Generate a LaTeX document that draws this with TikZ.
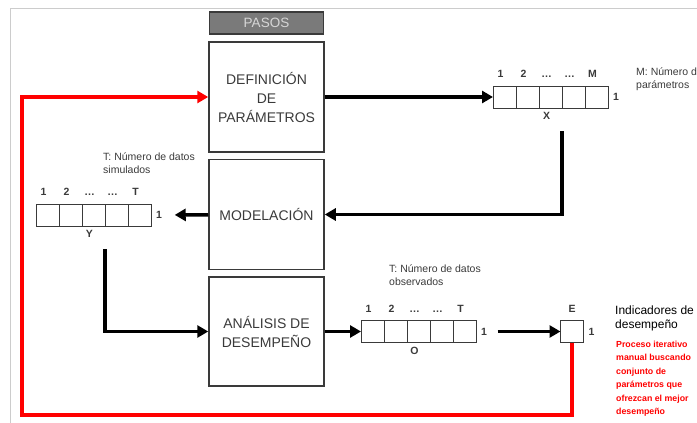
\documentclass[tikz,border=0pt]{standalone}
\usepackage{fontspec}
\setmainfont{Liberation Sans}
\usetikzlibrary{positioning, arrows.meta}

\definecolor{framegray}{HTML}{CCCCCC}
\definecolor{boxgray}{HTML}{3A3A3A}
\definecolor{headgray}{HTML}{7A7A7A}
\definecolor{headtext}{HTML}{D6D6D6}

\begin{document}
\begin{tikzpicture}[x=1pt, y=-1pt, node distance=6pt,
    stepbox/.style={draw=boxgray, line width=1.5pt, minimum width=115pt, minimum height=110pt,
        align=center, text=boxgray, font=\fontsize{14}{19}\selectfont},
    cell/.style={draw=boxgray, line width=1pt, minimum width=23pt, minimum height=22pt,
        inner sep=0pt, outer sep=0pt},
    idx/.style={font=\fontsize{10.5}{12}\selectfont\bfseries, text=boxgray, inner sep=1pt},
    note/.style={align=left, anchor=north west, inner sep=0pt, text=boxgray,
        font=\fontsize{10.5}{13}\selectfont},
    arr/.style={line width=3.5pt, -{Triangle[length=11pt, width=12pt]}},
    redarr/.style={red, line width=4pt, -{Triangle[length=11pt, width=12pt]}}]
    \useasboundingbox (0,0) rectangle (697,423);
    \draw[framegray, line width=1.5pt] (10.5,423) -- (10.5,8.5) -- (697,8.5);

    % pasos
    \node[draw=boxgray, fill=headgray, line width=1.5pt, minimum width=114pt, minimum height=22pt,
        text=headtext, font=\fontsize{13.5}{13.5}\selectfont] (pasos) at (266.5,23) {PASOS};
    \node[stepbox]                  (def) at (266.5,97) {DEFINICIÓN\\DE\\PARÁMETROS};
    \node[stepbox, below=of def]    (mod) {MODELACIÓN};
    \node[stepbox, below=of mod, minimum height=109pt] (ana) {ANÁLISIS DE\\DESEMPEÑO};

    % vector X
    \node[cell] (x1) at (504.5,97) {};
    \foreach \i/\j in {2/1,3/2,4/3,5/4} \node[cell, right=0pt of x\j] (x\i) {};
    \foreach \i/\t in {1/1,2/2,3/…,4/…,5/M} \node[idx, above=7pt of x\i, xshift=-4pt] {\t};
    \node[idx, right=4pt of x5]             (xone)  {1};
    \node[idx, below=3pt of x3, xshift=-4pt] (xname) {X};
    \node[note] (xnote) at (636,68) {M: Número de\\parámetros};

    % vector Y
    \node[cell] (y1) at (47.5,215) {};
    \foreach \i/\j in {2/1,3/2,4/3,5/4} \node[cell, right=0pt of y\j] (y\i) {};
    \foreach \i/\t in {1/1,2/2,3/…,4/…,5/T} \node[idx, above=7pt of y\i, xshift=-4pt] {\t};
    \node[idx, right=4pt of y5]             (yone)  {1};
    \node[idx, below=3pt of y3, xshift=-4pt] (yname) {Y};
    \node[note] (ynote) at (103,153) {T: Número de datos\\simulados};

    % vector O
    \node[cell] (o1) at (372.5,331.5) {};
    \foreach \i/\j in {2/1,3/2,4/3,5/4} \node[cell, right=0pt of o\j] (o\i) {};
    \foreach \i/\t in {1/1,2/2,3/…,4/…,5/T} \node[idx, above=7pt of o\i, xshift=-4pt] {\t};
    \node[idx, right=4pt of o5]             (oone)  {1};
    \node[idx, below=3pt of o3, xshift=-4pt] (oname) {O};
    \node[note] (onote) at (389,265) {T: Número de datos\\observados};

    % indicadores E
    \node[cell] (e1) at (572,331.5) {};
    \node[idx, above=7pt of e1]  (ename) {E};
    \node[idx, right=4pt of e1]  (eone)  {1};
    \node[note, text=black, font=\fontsize{12}{14}\selectfont] (enote) at (615,306)
        {Indicadores de\\desempeño};
    \node[note, text=red, font=\fontsize{8.8}{13.4}\selectfont\bfseries] (iter) at (616,341)
        {Proceso iterativo\\manual buscando\\conjunto de\\parámetros que\\ofrezcan el mejor\\desempeño};

    % flechas
    \coordinate (xdown) at ([yshift=-23pt]x3.south east);
    \coordinate (ydown) at ([yshift=-23pt]y3.south east);
    \coordinate (loopcorner) at (22,415);
    \draw[arr] (def) -- (x1);
    \draw[arr] (xdown) |- (mod);
    \draw[arr, shorten >=11.5pt] (mod) -- (yone);
    \draw[arr] (ydown) |- (ana);
    \draw[arr] (ana) -- (o1);
    \draw[arr, shorten <=9.5pt] (oone) -- (e1);
    \draw[redarr] (e1) |- (loopcorner) |- (def);
\end{tikzpicture}
\end{document}
